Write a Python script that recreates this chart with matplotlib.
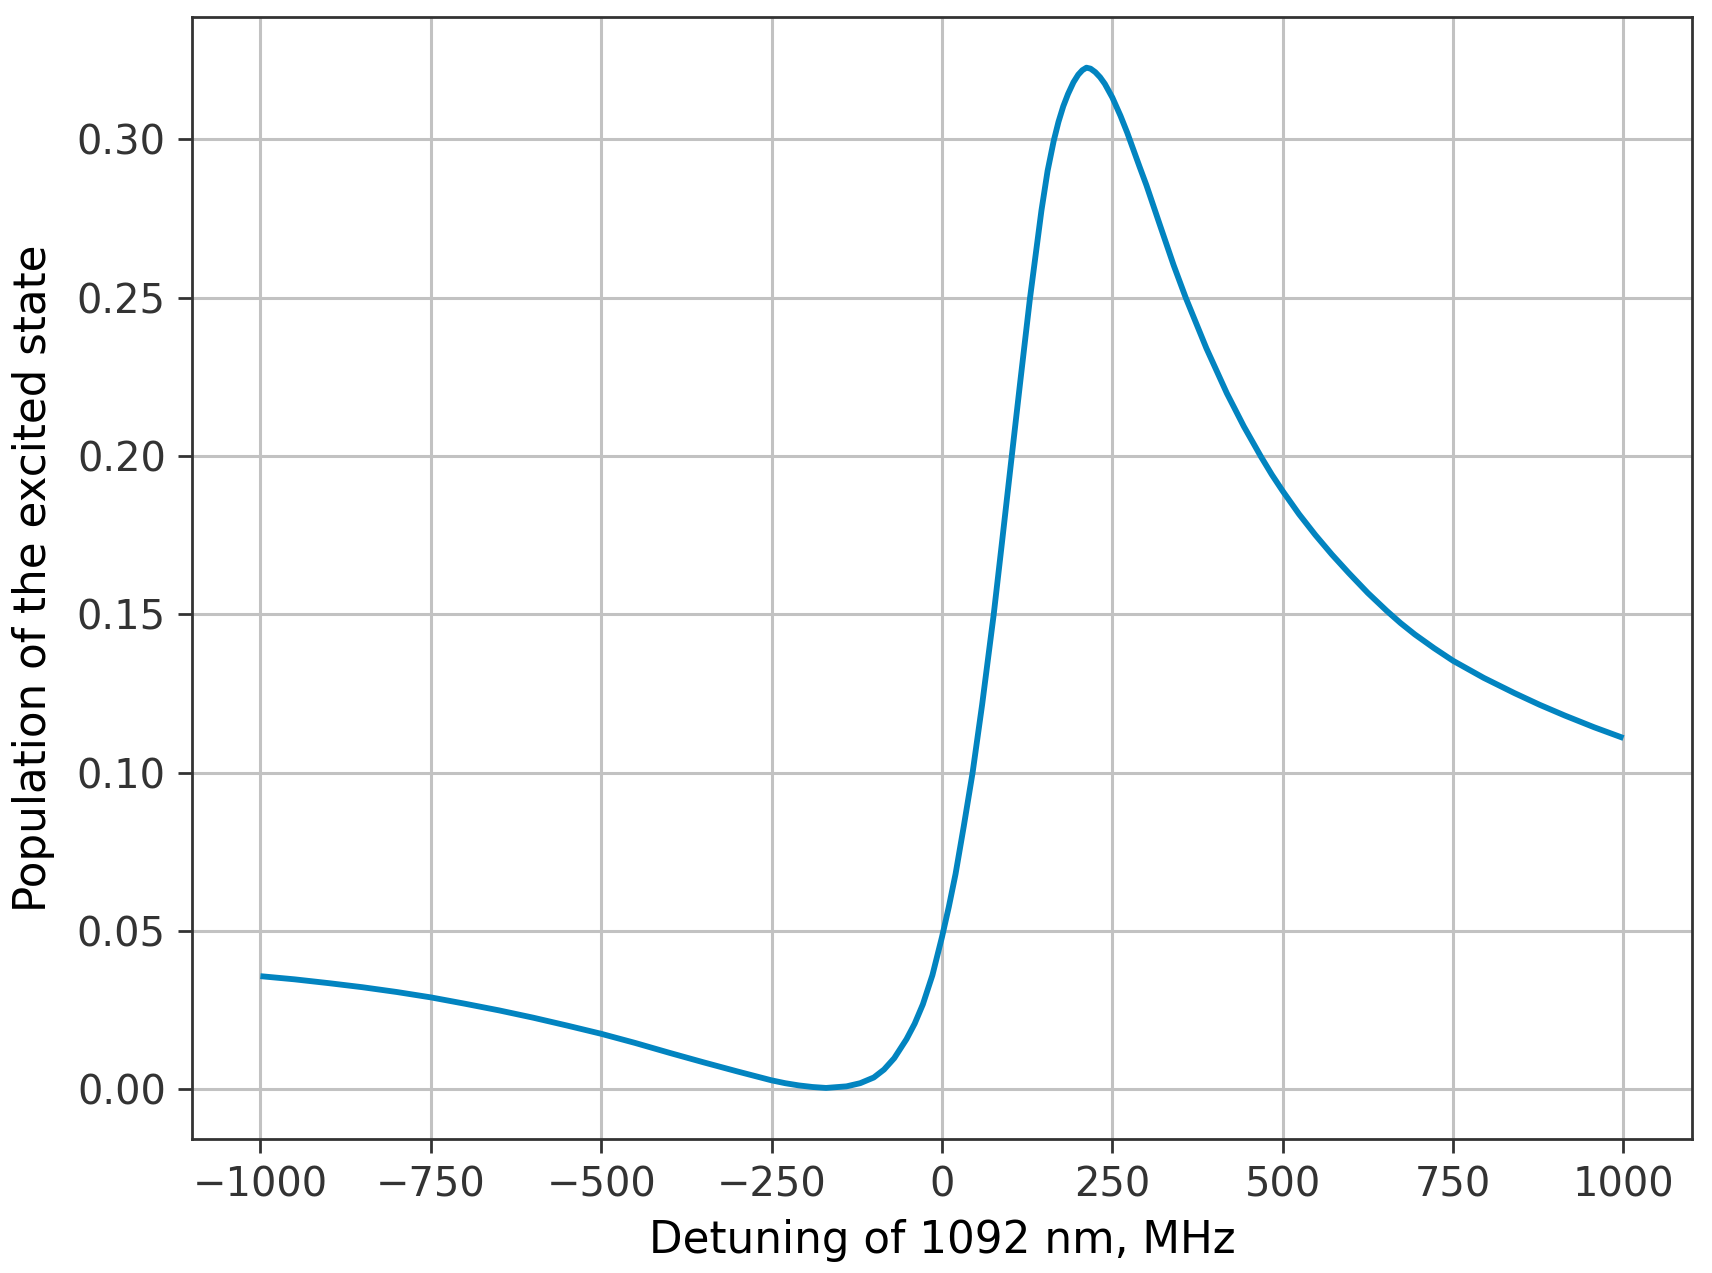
import numpy as np
import matplotlib
matplotlib.use("Agg")
import matplotlib.pyplot as plt

# values
detuning = [-1000, -950, -900, -850, -800, -750, -700, -650, -600, -550,
            -500, -450, -400, -350, -300, -250, -230, -210, -190, -170,
            -140, -120, -100, -85, -70, -52, -40, -28, -14, 0,
            10, 20, 32, 45, 59, 76, 88, 95, 102, 115,
            129, 146, 155, 164, 171, 178, 185, 193, 200, 206,
            212, 218, 225, 232, 239, 250, 262, 272, 290, 300,
            320, 340, 358, 388, 418, 443, 468, 484, 500, 524,
            548, 572, 597, 625, 653, 673, 694, 722, 750, 795,
            840, 877, 914, 957, 1000]
population = [0.0357, 0.0347, 0.0335, 0.0322, 0.0307, 0.0290, 0.0270, 0.0249, 0.0226, 0.0201,
              0.0175, 0.0146, 0.0115, 0.0085, 0.0056, 0.0028, 0.0019, 0.0012, 0.0007, 0.0004,
              0.0009, 0.0019, 0.0037, 0.0062, 0.0098, 0.0158, 0.0207, 0.0268, 0.0360, 0.0480,
              0.0575, 0.0680, 0.0830, 0.1000, 0.1215, 0.1500, 0.1725, 0.1858, 0.1991, 0.2236,
              0.2495, 0.2775, 0.2900, 0.2995, 0.3055, 0.3104, 0.3143, 0.3180, 0.3204, 0.3218,
              0.3226, 0.3223, 0.3212, 0.3196, 0.3175, 0.3132, 0.3074, 0.3020, 0.2913, 0.2855,
              0.2728, 0.2602, 0.2498, 0.2340, 0.2198, 0.2093, 0.1998, 0.1941, 0.1889, 0.1816,
              0.1750, 0.1689, 0.1630, 0.1567, 0.1510, 0.1472, 0.1436, 0.1393, 0.1353, 0.1299,
              0.1251, 0.1214, 0.1180, 0.1143, 0.1109]

xticks = [-1000, -750, -500, -250, 0, 250, 500, 750, 1000]
yticks = [0.00, 0.05, 0.10, 0.15, 0.20, 0.25, 0.30]

plt.rcParams['font.family'] = ['DejaVu Sans']

fig = plt.figure(figsize=(8.56, 6.365), dpi=200)
ax = fig.add_axes([0.1123, 0.1053, 0.8758, 0.8816])

ax.plot(detuning, population, color='#0284c0', lw=2.1,
        solid_joinstyle='round', solid_capstyle='butt')

ax.set_xticks(xticks)
ax.set_yticks(yticks)
ax.set_yticklabels([f'{v:.2f}' for v in yticks])
ax.set_xticklabels([str(v).replace('-', '\u2212') for v in xticks])
ax.tick_params(labelsize=14.4, labelcolor='#333333', length=5, width=1.0,
               color='#333333', direction='out', pad=4.5)

ax.grid(True, color='#c2c2c2', lw=1.1)
ax.set_axisbelow(True)
for sp in ax.spines.values():
    sp.set_color('#333333')
    sp.set_linewidth(1.0)

ax.set_xlabel('Detuning of 1092 nm, MHz', fontsize=15.7, labelpad=5)
ax.set_ylabel('Population of the excited state', fontsize=15.7, labelpad=8)

fig.savefig('out.png', dpi=200, facecolor='white')
